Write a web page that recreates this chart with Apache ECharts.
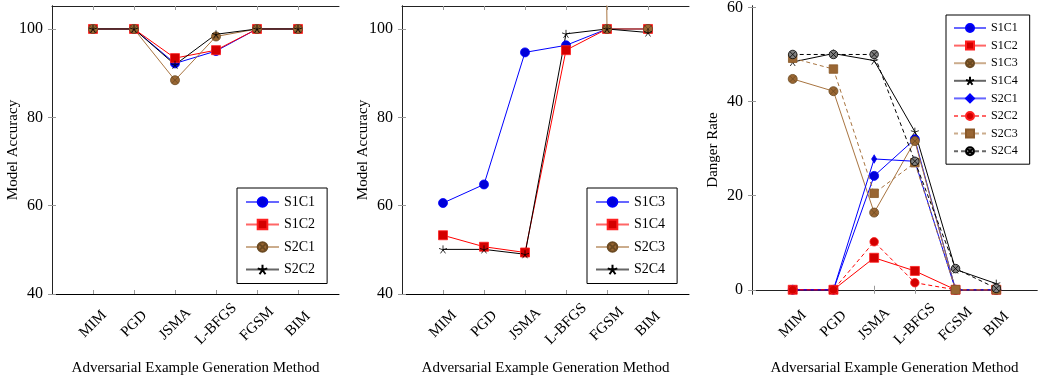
<!DOCTYPE html>
<html>
<head>
<meta charset="utf-8">
<script src="https://cdn.jsdelivr.net/npm/echarts@6/dist/echarts.min.js"></script>
<style>
  html, body { margin: 0; padding: 0; background: #fff; }
  #chart { width: 1038px; height: 377px; }
</style>
</head>
<body>
<div id="chart"></div>
<script>
// methods on the x axis (same for all three panels)
const methods = ['MIM', 'PGD', 'JSMA', 'L-BFGS', 'FGSM', 'BIM'];

// panel 1: model accuracy
const accS1C1 = [100, 100, 92.2, 95.0, 100, 100];
const accS1C2 = [100, 100, 93.4, 95.2, 100, 100];
const accS2C1 = [100, 100, 88.4, 98.3, 100, 100];
const accS2C2 = [100, 100, 91.9, 98.8, 100, 100];

// panel 2: model accuracy
const accS1C3 = [60.6, 64.8, 94.7, 96.3, 100, 100];
const accS1C4 = [53.3, 50.7, 49.4, 95.2, 100, 100];
const accS2C3 = [null, null, null, 1000, 100, 100]; // off the chart before FGSM
const accS2C4 = [50.1, 50.1, 49.0, 98.9, 100, 99.2];

// panel 3: danger rate
const dgS1C1 = [0, 0, 24.2, 32.0, 0, 0];
const dgS1C2 = [0, 0, 6.8, 4.0, 0, 0];
const dgS1C3 = [44.8, 42.2, 16.4, 31.6, 0, 0];
const dgS1C4 = [48.4, 50.2, 48.7, 33.6, 4.3, 1.3];
const dgS2C1 = [0, 0, 27.8, 27.3, 0, 0];
const dgS2C2 = [0, 0, 10.2, 1.5, 0, 0];
const dgS2C3 = [49.2, 46.9, 20.5, 27.0, 0, 0];
const dgS2C4 = [50, 50, 50, 27.3, 4.5, 0.3];

const accTicks = [40, 60, 80, 100];
const dangerTicks = [0, 20, 40, 60];
const xPos = [1, 2, 3, 4, 5, 6];

const FONT = 'Liberation Serif';
const TICK = '#999';

// pgfplots-like marks
const STAR = 'path://M0,-10L0,0M9.51,-3.09L0,0M5.88,8.09L0,0M-5.88,8.09L0,0M-9.51,-3.09L0,0';
const OTIMES = 'path://M10,0A10,10 0 1,1 -10,0A10,10 0 1,1 10,0ZM7.07,7.07L-7.07,-7.07M-7.07,7.07L7.07,-7.07';

const STYLES = {
  blueCircle: { line: '#0000ff', symbol: 'circle', fill: '#0000d9', border: '#0000ff', size: 9 },
  redSquare: { line: '#ff0000', symbol: 'rect', fill: '#d40000', border: '#ff2020', size: 9 },
  brownOtimes: { line: '#a87440', symbol: OTIMES, fill: '#996633', border: '#6b4a22', size: 9 },
  blackStar: { line: '#000000', symbol: STAR, fill: '#000000', border: '#000000', size: 8 },
  blueDiamond: { line: '#0000ff', symbol: 'diamond', fill: '#0000d9', border: '#0000ff', size: [5, 8] },
  redCircle: { line: '#ff0000', symbol: 'circle', fill: '#d40000', border: '#ff2020', size: 8.5 },
  brownSquare: { line: '#a87440', symbol: 'rect', fill: '#996633', border: '#8a5a2a', size: 8.5 },
  grayOtimes: { line: '#000000', symbol: OTIMES, fill: '#808080', border: '#000000', size: 8.5 },
};

function mk(panel, name, values, st, dashed) {
  return {
    name: panel + '|' + name,
    type: 'line',
    xAxisIndex: panel * 2,
    yAxisIndex: panel * 2,
    data: values.map((v, i) => [xPos[i], v == null ? '-' : v]),
    symbol: st.symbol,
    symbolSize: st.size,
    showAllSymbol: true,
    lineStyle: { color: st.line, width: 1, type: dashed ? [4, 3] : 'solid' },
    itemStyle: { color: st.fill, borderColor: st.border, borderWidth: 0.8 },
    emphasis: { disabled: true },
  };
}

const grids = [
  { left: 52, top: 6, width: 287, height: 288, outerBoundsMode: 'none' },
  { left: 402, top: 6, width: 287, height: 288, outerBoundsMode: 'none' },
  { left: 752, top: 6, width: 285, height: 288, outerBoundsMode: 'none' },
];

const xAxis = [];
const yAxis = [];
grids.forEach((g, i) => {
  xAxis.push({
    type: 'value', gridIndex: i, min: 0, max: 7, position: 'bottom',
    name: 'Adversarial Example Generation Method', nameLocation: 'middle', nameGap: 67,
    nameMoveOverlap: false,
    nameTextStyle: { fontFamily: FONT, fontSize: 15, color: '#000' },
    axisLine: { lineStyle: { color: '#000', width: 1 } },
    axisTick: { inside: true, length: 4, lineStyle: { color: TICK }, customValues: xPos },
    axisLabel: {
      customValues: xPos, rotate: 45, align: 'center', verticalAlign: 'middle', margin: 30,
      fontFamily: FONT, fontSize: 15, color: '#000',
      formatter: (v) => methods[v - 1] || '',
    },
    splitLine: { show: false },
  });
  xAxis.push({
    type: 'value', gridIndex: i, min: 0, max: 7, position: 'top',
    axisLine: { lineStyle: { color: '#222', width: 1 } },
    axisTick: { inside: true, length: 4, lineStyle: { color: TICK }, customValues: xPos },
    axisLabel: { show: false },
    splitLine: { show: false },
  });
  const danger = i === 2;
  const ticks = danger ? dangerTicks : accTicks;
  const range = danger ? { min: -0.9, max: 60.3 } : { min: 40, max: 105.2 };
  yAxis.push({
    type: 'value', gridIndex: i, position: 'left', ...range,
    name: danger ? 'Danger Rate' : 'Model Accuracy', nameLocation: 'middle', nameGap: 31,
    nameMoveOverlap: false,
    nameTextStyle: { fontFamily: FONT, fontSize: 15, color: '#000' },
    axisLine: { show: true, lineStyle: { color: '#000', width: 1 } },
    axisTick: { show: true, inside: true, length: 4, lineStyle: { color: TICK }, customValues: ticks },
    axisLabel: { customValues: ticks, margin: 9, fontFamily: FONT, fontSize: 16, color: '#000' },
    splitLine: { show: false },
  });
  yAxis.push({
    type: 'value', gridIndex: i, position: 'right', ...range,
    axisLine: { show: true, lineStyle: { color: '#222', width: 1 } },
    axisTick: { show: true, inside: true, length: 4, lineStyle: { color: TICK }, customValues: ticks },
    axisLabel: { show: false },
    splitLine: { show: false },
  });
});

const series = [
  mk(0, 'S1C1', accS1C1, STYLES.blueCircle),
  mk(0, 'S1C2', accS1C2, STYLES.redSquare),
  mk(0, 'S2C1', accS2C1, STYLES.brownOtimes),
  mk(0, 'S2C2', accS2C2, STYLES.blackStar),

  mk(1, 'S1C3', accS1C3, STYLES.blueCircle),
  mk(1, 'S1C4', accS1C4, STYLES.redSquare),
  mk(1, 'S2C3', accS2C3, STYLES.brownOtimes),
  mk(1, 'S2C4', accS2C4, STYLES.blackStar),

  mk(2, 'S1C1', dgS1C1, STYLES.blueCircle),
  mk(2, 'S1C2', dgS1C2, STYLES.redSquare),
  mk(2, 'S1C3', dgS1C3, STYLES.brownOtimes),
  mk(2, 'S1C4', dgS1C4, STYLES.blackStar),
  mk(2, 'S2C1', dgS2C1, STYLES.blueDiamond),
  mk(2, 'S2C2', dgS2C2, STYLES.redCircle, true),
  mk(2, 'S2C3', dgS2C3, STYLES.brownSquare, true),
  mk(2, 'S2C4', dgS2C4, STYLES.grayOtimes, true),
];

function legendFor(panel, left, top, opts) {
  return {
    data: series.filter((s) => s.xAxisIndex === panel * 2).map((s) => s.name),
    left, top, orient: 'vertical',
    selectedMode: false,
    backgroundColor: '#fff',
    borderColor: '#000', borderWidth: 1, borderRadius: 0,
    lineStyle: { opacity: 0.6 },
    formatter: (n) => n.split('|')[1],
    ...opts,
  };
}

const legend = [
  legendFor(0, 237, 188, {
    itemWidth: 33, itemHeight: 12, itemGap: 8.5, padding: [7, 12, 7, 8],
    textStyle: { fontFamily: FONT, fontSize: 14, color: '#000' },
  }),
  legendFor(1, 587, 188, {
    itemWidth: 33, itemHeight: 12, itemGap: 8.5, padding: [7, 12, 7, 8],
    textStyle: { fontFamily: FONT, fontSize: 14, color: '#000' },
  }),
  legendFor(2, 946, 15, {
    itemWidth: 32, itemHeight: 10, itemGap: 5.6, padding: [7, 12, 7, 7],
    textStyle: { fontFamily: FONT, fontSize: 12, color: '#000' },
  }),
];

const chart = echarts.init(document.getElementById('chart'), null, { renderer: 'canvas' });
chart.setOption({
  animation: false,
  backgroundColor: '#fff',
  grid: grids,
  xAxis,
  yAxis,
  legend,
  series,
});
</script>
</body>
</html>
